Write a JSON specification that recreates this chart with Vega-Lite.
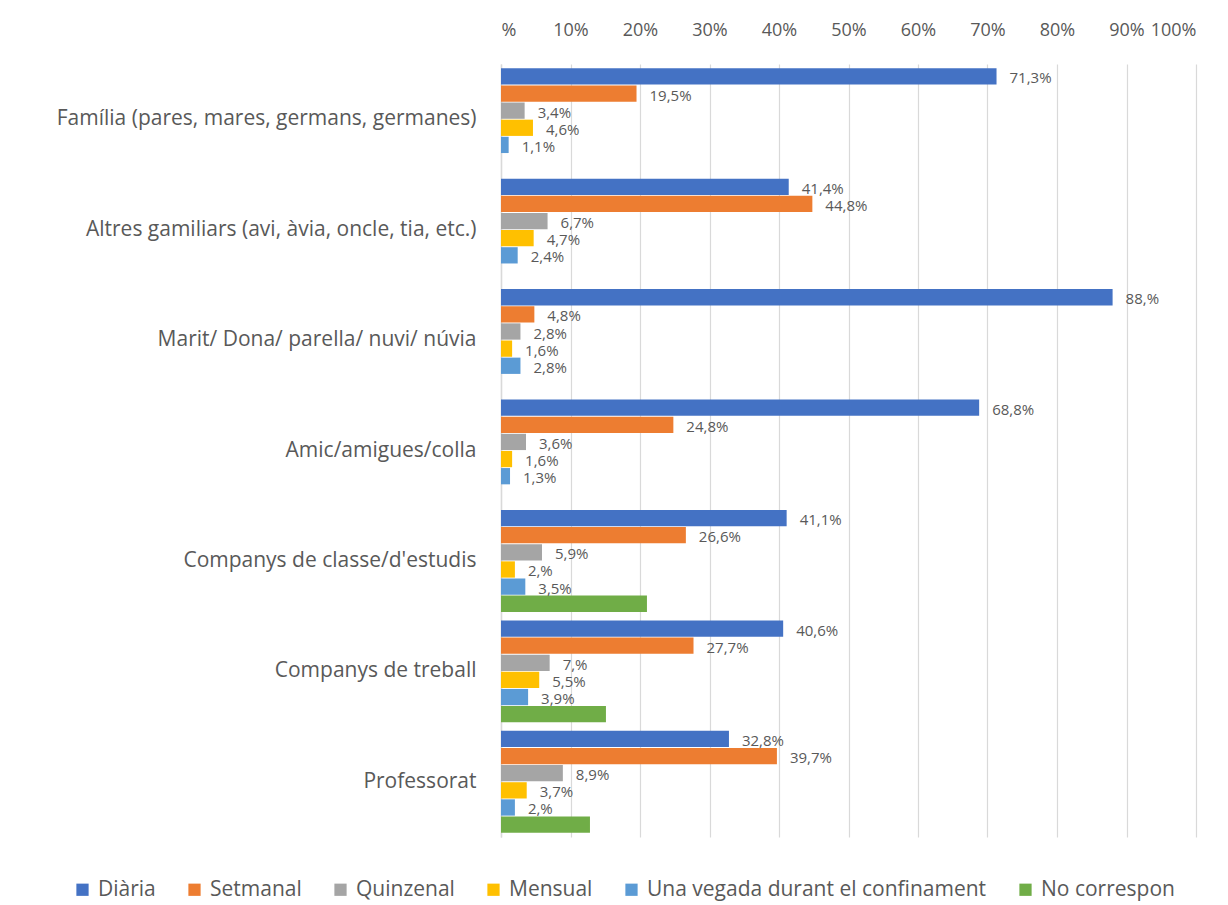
{
  "$schema": "https://vega.github.io/schema/vega-lite/v6.json",
  "width": 695,
  "height": 773,
  "autosize": "none",
  "padding": {"left": 501, "top": 64, "right": 32, "bottom": 68},
  "background": "white",
  "config": {"view": {"stroke": null}, "font": "Open Sans"},
  "data": {"values": [
    {"cat": "Família (pares, mares, germans, germanes)", "s": "Diària", "v": 71.3, "lab": "71,3%"},
    {"cat": "Família (pares, mares, germans, germanes)", "s": "Setmanal", "v": 19.5, "lab": "19,5%"},
    {"cat": "Família (pares, mares, germans, germanes)", "s": "Quinzenal", "v": 3.4, "lab": "3,4%"},
    {"cat": "Família (pares, mares, germans, germanes)", "s": "Mensual", "v": 4.6, "lab": "4,6%"},
    {"cat": "Família (pares, mares, germans, germanes)", "s": "Una vegada durant el confinament", "v": 1.1, "lab": "1,1%"},
    {"cat": "Altres gamiliars (avi, àvia, oncle, tia, etc.)", "s": "Diària", "v": 41.4, "lab": "41,4%"},
    {"cat": "Altres gamiliars (avi, àvia, oncle, tia, etc.)", "s": "Setmanal", "v": 44.8, "lab": "44,8%"},
    {"cat": "Altres gamiliars (avi, àvia, oncle, tia, etc.)", "s": "Quinzenal", "v": 6.7, "lab": "6,7%"},
    {"cat": "Altres gamiliars (avi, àvia, oncle, tia, etc.)", "s": "Mensual", "v": 4.7, "lab": "4,7%"},
    {"cat": "Altres gamiliars (avi, àvia, oncle, tia, etc.)", "s": "Una vegada durant el confinament", "v": 2.4, "lab": "2,4%"},
    {"cat": "Marit/ Dona/ parella/ nuvi/ núvia", "s": "Diària", "v": 88.0, "lab": "88,%"},
    {"cat": "Marit/ Dona/ parella/ nuvi/ núvia", "s": "Setmanal", "v": 4.8, "lab": "4,8%"},
    {"cat": "Marit/ Dona/ parella/ nuvi/ núvia", "s": "Quinzenal", "v": 2.8, "lab": "2,8%"},
    {"cat": "Marit/ Dona/ parella/ nuvi/ núvia", "s": "Mensual", "v": 1.6, "lab": "1,6%"},
    {"cat": "Marit/ Dona/ parella/ nuvi/ núvia", "s": "Una vegada durant el confinament", "v": 2.8, "lab": "2,8%"},
    {"cat": "Amic/amigues/colla", "s": "Diària", "v": 68.8, "lab": "68,8%"},
    {"cat": "Amic/amigues/colla", "s": "Setmanal", "v": 24.8, "lab": "24,8%"},
    {"cat": "Amic/amigues/colla", "s": "Quinzenal", "v": 3.6, "lab": "3,6%"},
    {"cat": "Amic/amigues/colla", "s": "Mensual", "v": 1.6, "lab": "1,6%"},
    {"cat": "Amic/amigues/colla", "s": "Una vegada durant el confinament", "v": 1.3, "lab": "1,3%"},
    {"cat": "Companys de classe/d'estudis", "s": "Diària", "v": 41.1, "lab": "41,1%"},
    {"cat": "Companys de classe/d'estudis", "s": "Setmanal", "v": 26.6, "lab": "26,6%"},
    {"cat": "Companys de classe/d'estudis", "s": "Quinzenal", "v": 5.9, "lab": "5,9%"},
    {"cat": "Companys de classe/d'estudis", "s": "Mensual", "v": 2.0, "lab": "2,%"},
    {"cat": "Companys de classe/d'estudis", "s": "Una vegada durant el confinament", "v": 3.5, "lab": "3,5%"},
    {"cat": "Companys de classe/d'estudis", "s": "No correspon", "v": 21.0, "lab": ""},
    {"cat": "Companys de treball", "s": "Diària", "v": 40.6, "lab": "40,6%"},
    {"cat": "Companys de treball", "s": "Setmanal", "v": 27.7, "lab": "27,7%"},
    {"cat": "Companys de treball", "s": "Quinzenal", "v": 7.0, "lab": "7,%"},
    {"cat": "Companys de treball", "s": "Mensual", "v": 5.5, "lab": "5,5%"},
    {"cat": "Companys de treball", "s": "Una vegada durant el confinament", "v": 3.9, "lab": "3,9%"},
    {"cat": "Companys de treball", "s": "No correspon", "v": 15.1, "lab": ""},
    {"cat": "Professorat", "s": "Diària", "v": 32.8, "lab": "32,8%"},
    {"cat": "Professorat", "s": "Setmanal", "v": 39.7, "lab": "39,7%"},
    {"cat": "Professorat", "s": "Quinzenal", "v": 8.9, "lab": "8,9%"},
    {"cat": "Professorat", "s": "Mensual", "v": 3.7, "lab": "3,7%"},
    {"cat": "Professorat", "s": "Una vegada durant el confinament", "v": 2.0, "lab": "2,%"},
    {"cat": "Professorat", "s": "No correspon", "v": 12.8, "lab": ""}
  ]},
  "encoding": {
    "y": {
      "field": "cat", "type": "nominal", "sort": null, "title": null,
      "scale": {"paddingInner": 0.077, "paddingOuter": 0.0385},
      "axis": {"ticks": false, "domainColor": "#D9D9D9", "domainWidth": 1.5, "labelFontSize": 21, "labelColor": "#595959", "labelPadding": 25, "labelLimit": 520, "labelFont": "Open Sans"}
    },
    "yOffset": {
      "field": "s", "type": "nominal", "sort": null,
      "scale": {"domain": ["Diària", "Setmanal", "Quinzenal", "Mensual", "Una vegada durant el confinament", "No correspon"], "paddingInner": 0.05, "paddingOuter": 0}
    },
    "x": {
      "field": "v", "type": "quantitative", "title": null,
      "scale": {"domain": [0, 100], "nice": false},
      "axis": {"orient": "top", "values": [0, 10, 20, 30, 40, 50, 60, 70, 80, 90, 100], "labelExpr": "datum.value == 0 ? '%' : datum.value + '%'", "labelOverlap": false, "ticks": false, "domain": false, "gridColor": "#D9D9D9", "gridWidth": 1.2, "labelFontSize": 18, "labelColor": "#595959", "labelPadding": 25, "labelFont": "Open Sans"}
    }
  },
  "layer": [
    {
      "mark": {"type": "bar"},
      "encoding": {
        "color": {
          "field": "s", "type": "nominal", "title": null,
          "scale": {"domain": ["Diària", "Setmanal", "Quinzenal", "Mensual", "Una vegada durant el confinament", "No correspon"], "range": ["#4472C4", "#ED7D31", "#A5A5A5", "#FFC000", "#5B9BD5", "#70AD47"]},
          "legend": {"orient": "none", "legendX": -429, "legendY": 815, "direction": "horizontal", "symbolType": "square", "symbolSize": 150, "symbolStrokeWidth": 0, "labelFontSize": 21, "labelColor": "#595959", "columnPadding": 28, "labelOffset": 5, "labelFont": "Open Sans", "labelLimit": 500}
        }
      }
    },
    {
      "mark": {"type": "text", "align": "left", "baseline": "middle", "dx": 13, "dy": 2, "fontSize": 15, "color": "#595959", "font": "Open Sans"},
      "encoding": {"text": {"field": "lab"}}
    }
  ]
}
